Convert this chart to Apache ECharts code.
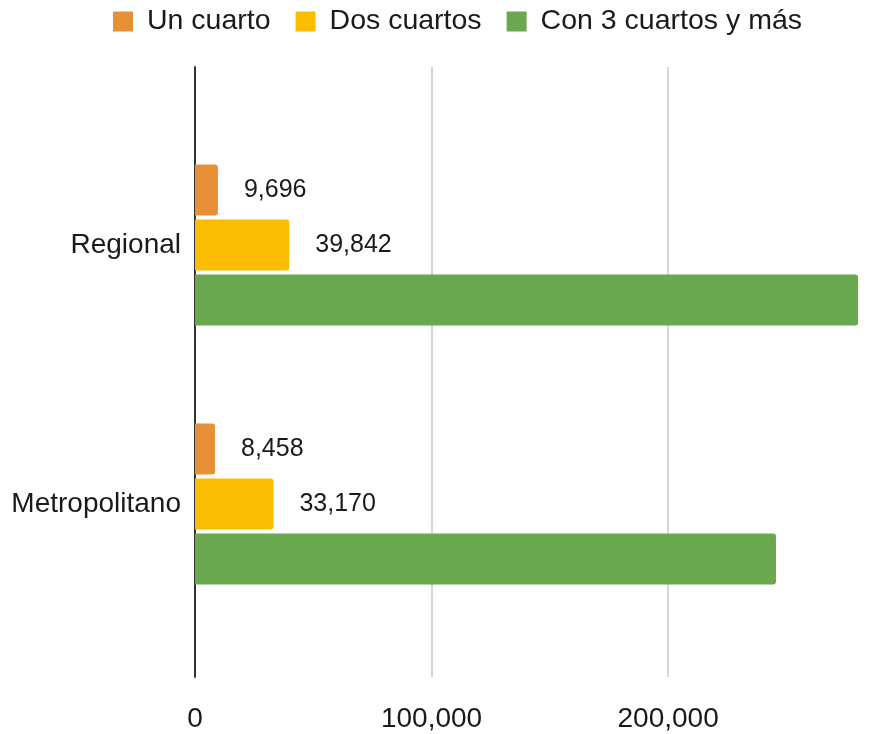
<!DOCTYPE html>
<html>
<head>
<meta charset="utf-8">
<script src="https://cdn.jsdelivr.net/npm/echarts@6/dist/echarts.min.js"></script>
<style>
  html, body { margin: 0; padding: 0; background: #fff; }
  #chart { width: 893px; height: 734px; }
</style>
</head>
<body>
<div id="chart"></div>
<script>
// Viviendas por número de cuartos
const categories = ['Regional', 'Metropolitano'];
const seriesNames = ['Un cuarto', 'Dos cuartos', 'Con 3 cuartos y más'];
const unCuarto = [9696, 8458];
const dosCuartos = [39842, 33170];
const tresOMas = [280300, 245600];
const showValueLabel = [true, true, false];
const colors = ['#E69138', '#FBBC04', '#6AA84F'];
const xTicks = { min: 0, max: 290000, interval: 100000 };

const fontFamily = '"Liberation Sans", Arial, sans-serif';
const values = [unCuarto, dosCuartos, tresOMas];

const fmt = v => Math.round(v).toLocaleString('en-US');

const chart = echarts.init(document.getElementById('chart'), null, { renderer: 'canvas' });

chart.setOption({
  backgroundColor: '#ffffff',
  animation: false,
  legend: {
    data: seriesNames,
    left: 108,
    top: 2,
    icon: 'rect',
    itemWidth: 20,
    itemHeight: 20,
    itemGap: 25,
    textStyle: { fontFamily, fontSize: 28.5, color: '#1a1a1a', padding: [0, 0, 0, 9] }
  },
  grid: [
    // frame: axis line, gridlines and tick labels
    { left: 195, top: 67, right: 12, bottom: 57, containLabel: false },
    // bars
    { left: 195, top: 115.5, right: 12, bottom: 100.5, containLabel: false }
  ],
  xAxis: [
    {
      gridIndex: 0,
      type: 'value',
      min: xTicks.min, max: xTicks.max, interval: xTicks.interval,
      axisLine: { show: false },
      axisTick: { show: false },
      splitLine: { show: true, showMaxLine: false, lineStyle: { color: '#c8c8c8', width: 1.5 } },
      axisLabel: {
        showMaxLabel: false,
        margin: 28,
        fontFamily, fontSize: 28, color: '#1a1a1a',
        formatter: fmt
      }
    },
    {
      gridIndex: 1,
      type: 'value',
      min: xTicks.min, max: xTicks.max, interval: xTicks.interval,
      show: false,
      splitLine: { show: false }
    }
  ],
  yAxis: [
    {
      gridIndex: 0,
      type: 'category',
      data: [''],
      axisLine: { show: true, lineStyle: { color: '#333', width: 2 } },
      axisTick: { show: false },
      axisLabel: { show: false },
      splitLine: { show: false }
    },
    {
      gridIndex: 1,
      type: 'category',
      data: categories,
      inverse: true,
      axisLine: { show: false },
      axisTick: { show: false },
      axisLabel: { margin: 14, fontFamily, fontSize: 28, color: '#1a1a1a' }
    }
  ],
  series: seriesNames.map((name, i) => ({
    name,
    type: 'bar',
    xAxisIndex: 1,
    yAxisIndex: 1,
    data: values[i],
    barWidth: 51,
    barGap: '8%',
    itemStyle: { color: colors[i], borderRadius: [0, 3, 3, 0] },
    label: {
      show: showValueLabel[i],
      position: 'right',
      distance: 26,
      fontFamily, fontSize: 25, color: '#1a1a1a',
      formatter: p => fmt(p.value)
    }
  }))
});
</script>
</body>
</html>
